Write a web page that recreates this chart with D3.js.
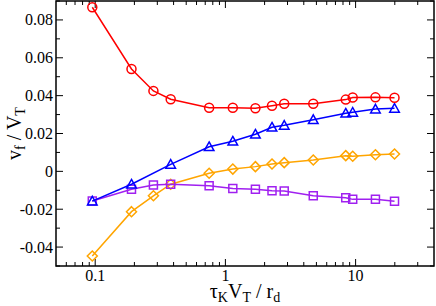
<!DOCTYPE html>
<html><head><meta charset="utf-8">
<script src="https://cdn.jsdelivr.net/npm/d3@7"></script>
<style>body{margin:0;background:#fff}svg{display:block}text{font-family:"Liberation Serif","Times New Roman",serif}</style>
</head><body>
<script>
const xRed = [0.095,0.19,0.28,0.38,0.75,1.14,1.7,2.28,2.83,4.73,8.4,9.5,14.2,19.9];
const yRed = [0.0867,0.0541,0.0425,0.0381,0.0336,0.0336,0.0333,0.0347,0.0357,0.0357,0.0379,0.0390,0.0391,0.0389];
const xBlue = [0.095,0.19,0.38,0.75,1.14,1.7,2.28,2.83,4.73,8.4,9.5,14.2,19.9];
const yBlue = [-0.0157,-0.0068,0.0037,0.0130,0.0159,0.0196,0.0233,0.0243,0.0273,0.0307,0.0312,0.0329,0.0333];
const xOrange = [0.095,0.19,0.28,0.38,0.75,1.14,1.7,2.28,2.83,4.73,8.4,9.5,14.2,19.9];
const yOrange = [-0.0447,-0.0213,-0.0129,-0.0068,-0.0010,0.0012,0.0025,0.0039,0.0046,0.0060,0.0083,0.0080,0.0088,0.0092];
const xPurple = [0.095,0.19,0.28,0.38,0.75,1.14,1.7,2.28,2.83,4.73,8.4,9.5,14.2,19.9];
const yPurple = [-0.0157,-0.0095,-0.0072,-0.0068,-0.0076,-0.0090,-0.0095,-0.0102,-0.0104,-0.0129,-0.0139,-0.0148,-0.0148,-0.0158];
const xMajor = [0.1,1,10];
const xMajorLabels = ["0.1","1","10"];
const xMinor = [0.06,0.07,0.08,0.09,0.2,0.3,0.4,0.5,0.6,0.7,0.8,0.9,2,3,4,5,6,7,8,9,20,30];
const yMajor = [-0.04,-0.02,0,0.02,0.04,0.06,0.08];
const yMajorLabels = ["-0.04","-0.02","0","0.02","0.04","0.06","0.08"];
const yMinor = [-0.05,-0.03,-0.01,0.01,0.03,0.05,0.07,0.09];

const W=436,H=306, L=56,R=434,T=1,B=266;
const svg = d3.select("body").append("svg").attr("width",W).attr("height",H);
const x = d3.scaleLog().domain([0.05,40]).range([L,R]);
const y = d3.scaleLinear().domain([-0.05,0.09]).range([B,T]);

// ticks
const g = svg.append("g").attr("stroke","#000").attr("stroke-width",1);
const MJ=7, MN=4;
xMajor.forEach(v=>{const px=x(v);
  g.append("line").attr("x1",px).attr("x2",px).attr("y1",B).attr("y2",B-MJ);
  g.append("line").attr("x1",px).attr("x2",px).attr("y1",T).attr("y2",T+MJ);});
xMinor.forEach(v=>{const px=x(v);
  g.append("line").attr("x1",px).attr("x2",px).attr("y1",B).attr("y2",B-MN);
  g.append("line").attr("x1",px).attr("x2",px).attr("y1",T).attr("y2",T+MN);});
yMajor.forEach(v=>{const py=y(v);
  g.append("line").attr("x1",L).attr("x2",L+MJ).attr("y1",py).attr("y2",py);
  g.append("line").attr("x1",R).attr("x2",R-MJ).attr("y1",py).attr("y2",py);});
yMinor.forEach(v=>{const py=y(v);
  g.append("line").attr("x1",L).attr("x2",L+MN).attr("y1",py).attr("y2",py);
  g.append("line").attr("x1",R).attr("x2",R-MN).attr("y1",py).attr("y2",py);});

svg.append("rect").attr("x",L).attr("y",T).attr("width",R-L).attr("height",B-T)
  .attr("fill","none").attr("stroke","#000").attr("stroke-width",1.5);

// tick labels
xMajor.forEach((v,i)=>svg.append("text").attr("x",x(v)).attr("y",281).attr("text-anchor","middle")
  .attr("font-size",16).text(xMajorLabels[i]));
yMajor.forEach((v,i)=>svg.append("text").attr("x",53).attr("y",y(v)+5.5).attr("text-anchor","end")
  .attr("font-size",16).text(yMajorLabels[i]));

// axis titles
const xt = svg.append("text").attr("x",(L+R)/2).attr("y",298).attr("text-anchor","middle").attr("font-size",20);
xt.append("tspan").text("τ");
xt.append("tspan").attr("font-size",14).attr("dy",4).text("K");
xt.append("tspan").attr("dy",-4).text("V");
xt.append("tspan").attr("font-size",14).attr("dy",4).text("T");
xt.append("tspan").attr("dy",-4).text(" / r");
xt.append("tspan").attr("font-size",14).attr("dy",4).text("d");

const yt = svg.append("text").attr("transform",`translate(21,${(T+B)/2}) rotate(-90)`)
  .attr("text-anchor","middle").attr("font-size",20);
yt.append("tspan").text("v");
yt.append("tspan").attr("font-size",14).attr("dy",4).text("f");
yt.append("tspan").attr("dy",-4).text(" / V");
yt.append("tspan").attr("font-size",14).attr("dy",4).text("T");

// series
const line = d3.line().x(d=>x(d[0])).y(d=>y(d[1]));
function marker(type,cx,cy){
  if(type==="circle"){const r=4.5;return `M${cx+r},${cy}A${r},${r} 0 1,1 ${cx-r},${cy}A${r},${r} 0 1,1 ${cx+r},${cy}Z`;}
  if(type==="square"){const s=4;return `M${cx-s},${cy-s}H${cx+s}V${cy+s}H${cx-s}Z`;}
  if(type==="diamond"){const s=5;return `M${cx},${cy-s}L${cx+s},${cy}L${cx},${cy+s}L${cx-s},${cy}Z`;}
  if(type==="triangle"){const s=4.8;return `M${cx},${cy-s}L${cx+s},${cy+s*0.8}L${cx-s},${cy+s*0.8}Z`;}
}
function series(xs,ys,color,type){
  const data = xs.map((v,i)=>[v,ys[i]]);
  svg.append("path").datum(data).attr("d",line).attr("fill","none").attr("stroke",color).attr("stroke-width",1.5);
  svg.append("g").selectAll("path").data(data).join("path")
    .attr("d",d=>marker(type,x(d[0]),y(d[1]))).attr("fill","none").attr("stroke",color).attr("stroke-width",1.5);
}
series(xOrange,yOrange,"#ffa500","diamond");
series(xPurple,yPurple,"#a020f0","square");
series(xBlue,yBlue,"#0000ff","triangle");
series(xRed,yRed,"#ff0000","circle");
</script>
</body></html>
